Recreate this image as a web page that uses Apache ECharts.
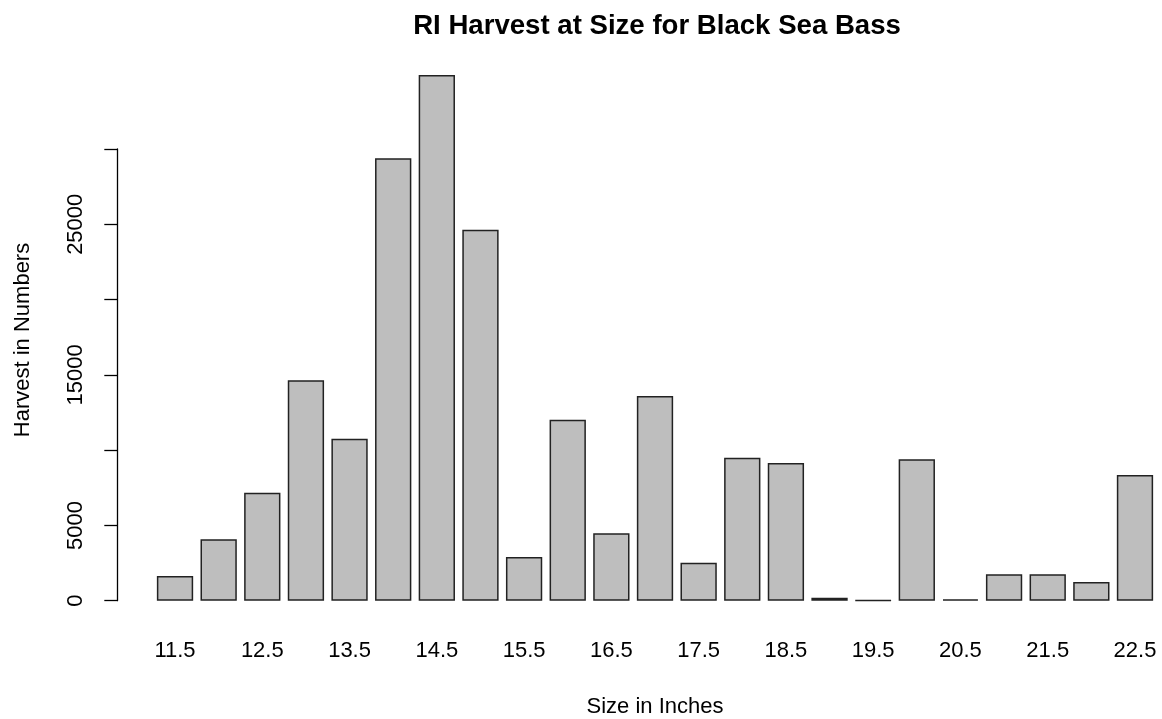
<!DOCTYPE html>
<html>
<head>
<meta charset="utf-8">
<script src="https://cdn.jsdelivr.net/npm/echarts@6/dist/echarts.min.js"></script>
<style>
html,body{margin:0;padding:0;background:#fff;}
#chart{width:1162px;height:719px;}
</style>
</head>
<body>
<div id="chart"></div>
<script>
const sizes = ['11.5','12','12.5','13','13.5','14','14.5','15','15.5','16','16.5','17','17.5','18','18.5','19','19.5','20','20.5','21','21.5','22','22.5'];
const harvest = [1640, 4080, 7170, 14640, 10760, 29390, 34920, 24640, 2910, 12020, 4480, 13600, 2520, 9500, 9150, 200, 30, 9390, 90, 1750, 1750, 1240, 8350];
const yTicks = [0, 5000, 10000, 15000, 20000, 25000, 30000];
const yLabelShown = [0, 5000, 15000, 25000];

const font = 'Liberation Sans, Arial, sans-serif';
const chart = echarts.init(document.getElementById('chart'));
chart.setOption({
  animation: false,
  backgroundColor: '#ffffff',
  title: {
    text: 'RI Harvest at Size for Black Sea Bass',
    left: 652, top: 7, textAlign: 'center',
    textStyle: {fontFamily: font, fontSize: 27.6, fontWeight: 'bold', color: '#000'}
  },
  graphic: [{
    type: 'text', x: 23, y: 340, rotation: Math.PI / 2,
    style: {text: 'Harvest in Numbers', fontFamily: font, fontSize: 22, fill: '#000', align: 'center', verticalAlign: 'middle'}
  }],
  grid: [
    {left: 153.2, right: 5.2, top: 58.66, bottom: 118.3, outerBoundsMode: 'none', containLabel: false},
    {left: 117.3, right: 5.2, top: 149, bottom: 118.3, outerBoundsMode: 'none', containLabel: false}
  ],
  xAxis: [
    {
      type: 'category', gridIndex: 0, data: sizes,
      axisLine: {show: false}, axisTick: {show: false},
      axisLabel: {interval: 1, margin: 39, fontFamily: font, fontSize: 22, color: '#000'},
      name: 'Size in Inches', nameLocation: 'middle', nameGap: 95,
      nameTextStyle: {fontFamily: font, fontSize: 22, color: '#000'}
    },
    {type: 'value', gridIndex: 1, show: false, min: 0, max: 1}
  ],
  yAxis: [
    {type: 'value', gridIndex: 0, min: 0, max: 36000, show: false},
    {
      type: 'value', gridIndex: 1, min: 0, max: 30000, interval: 5000,
      axisLine: {show: true, lineStyle: {color: '#000', width: 1.3}},
      axisTick: {show: true, length: 13, lineStyle: {color: '#000', width: 1.3}},
      splitLine: {show: false},
      axisLabel: {
        rotate: 90, margin: 30, fontFamily: font, fontSize: 22, color: '#000',
        formatter: v => yLabelShown.includes(v) ? String(v) : ''
      }
    }
  ],
  series: [{
    type: 'bar', xAxisIndex: 0, yAxisIndex: 0, data: harvest,
    barWidth: 36.3,
    itemStyle: {color: '#bebebe', borderColor: '#222', borderWidth: 1.5},
    emphasis: {disabled: true}
  }]
});
</script>
</body>
</html>
